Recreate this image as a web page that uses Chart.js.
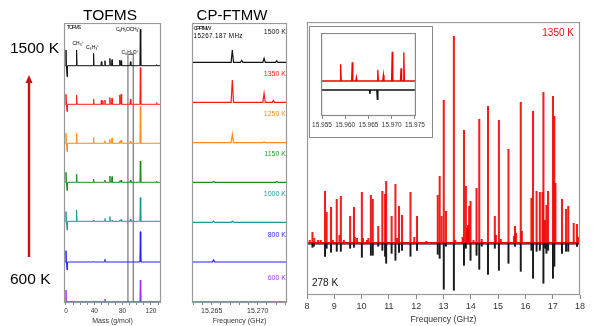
<!DOCTYPE html>
<html>
<head>
<meta charset="utf-8">
<script src="https://cdn.jsdelivr.net/npm/chart.js@4.4.1/dist/chart.umd.min.js"></script>
<style>
  html, body { margin: 0; padding: 0; background: #fff; }
  #page { position: relative; width: 600px; height: 326px; overflow: hidden; }
  canvas { position: absolute; }
  #inset-box { position: absolute; left: 309px; top: 26px; width: 122px; height: 110px; border: 1px solid #888; background: #fff; }
  svg { position: absolute; left: 0; top: 0; pointer-events: none; }
  text { font-family: "Liberation Sans", Arial, sans-serif; }
</style>
</head>
<body>
<div id="page">
  <canvas id="tof" width="117" height="303" style="left:54px;top:23px"></canvas>
  <canvas id="ftmw" width="115" height="303" style="left:182px;top:23px"></canvas>
  <canvas id="main" width="293" height="304" style="left:297px;top:22px"></canvas>
  <div id="inset-box"></div>
  <canvas id="inset" width="117" height="101" style="left:310px;top:33px"></canvas>
  <svg width="600" height="326">
    <text x="110" y="19.5" font-size="15.5" text-anchor="middle">TOFMS</text>
    <text x="232" y="20" font-size="15" text-anchor="middle">CP-FTMW</text>
    <text x="10" y="53" font-size="15.5">1500 K</text>
    <text x="10" y="284" font-size="15.5">600 K</text>
    <line x1="29" y1="257" x2="29" y2="82" stroke="#c81010" stroke-width="2.4"/>
    <polygon points="29,75 25.5,83 32.5,83" fill="#c81010"/>

    <text x="67" y="29" font-size="5" textLength="14">TOF-MS</text>
    <text x="72.5" y="44.5" font-size="5">CH₃⁺</text>
    <text x="86" y="48.5" font-size="5">C₃H₃⁺</text>
    <text x="116" y="31" font-size="5" textLength="24">C₆H₅OCH₃⁺</text>
    <text x="121.5" y="53.5" font-size="5">C₆H₅O⁺</text>

    <text x="193.5" y="30" font-size="6" textLength="18">CP-FTMW</text>
    <text x="193.5" y="38" font-size="6.3" textLength="49">15267.187 MHz</text>
    <g font-size="7" text-anchor="end">
      <text x="286" y="34" fill="#222">1500 K</text>
      <text x="286" y="75.5" fill="#ff2020">1350 K</text>
      <text x="286" y="115.5" fill="#ff8c1a">1250 K</text>
      <text x="286" y="156" fill="#2a9a2a">1150 K</text>
      <text x="286" y="196" fill="#1aa0a0">1000 K</text>
      <text x="286" y="236.5" fill="#2a2aff">800 K</text>
      <text x="286" y="279.5" fill="#a040ff">600 K</text>
    </g>
    <text x="574" y="36" font-size="10" text-anchor="end" fill="#e01010">1350 K</text>
    <text x="312" y="286" font-size="10" fill="#111">278 K</text>
  </svg>
</div>
<script>
// ---- TOF mass spectra (peak heights above each trace baseline)
const TOF_MASSES = [0, 1.5, 15, 39, 50, 52, 55, 62, 65, 76, 78, 91, 105, 128];
const TOF_1500 = [15.7, -11, 15.7, 12.3, 4, 0, 5, 7.3, 6, 5.7, 5, 4, 36.3, 1];
const TOF_1350 = [10, -7.4, 9.3, 5.3, 4.3, 3.5, 4.3, 6.7, 6, 9.3, 10.3, 5.3, 36.7, 1.7];
const TOF_1250 = [10, -8.3, 10, 5.7, 0, 0, 2.7, 4, 5, 2, 3.3, 2.3, 37.3, 0.5];
const TOF_1150 = [10, -8.3, 8.3, 3.3, 0, 0, 2.3, 6.3, 5.7, 1.5, 2.3, 2.3, 21.3, 1];
const TOF_1000 = [9.7, -8.7, 11.3, 1.3, 0, 0, 2.7, 4.7, 1, 1, 2, 2.3, 23.7, 0.5];
const TOF_800 = [11.3, -8, 0, 0.5, 0, 0, 2.7, 0, 0, 0, 0, 0, 30.3, 0];
const TOF_600 = [11.7, 0, 0, 0, 0, 0, 2.7, 0, 0, 0, 0, 0, 21.7, 0];
const TOF_TICKS = [0, 10, 20, 30, 40, 50, 60, 70, 80, 90, 100, 110, 120, 130];
const TOF_LABELS = [0, 40, 80, 120];

// ---- CP-FTMW traces around 15267.187 MHz
const CP_FREQS = [15.2652, 15.26724, 15.26826, 15.27069, 15.2717, 15.27206];
const CP_1500 = [0, 12.3, 2, 4, 0, 1.5];
const CP_1350 = [0, 22.3, 0, 9, 2, 0];
const CP_1250 = [0, 8.3, 0, 1, 0, 0];
const CP_1150 = [0.8, 0, 0, 0, 0, 0.8];
const CP_1000 = [1.2, 1.2, 0, 0, 0, 0];
const CP_800 = [2, 0, 0, 0, 0, 0];
const CP_600 = [0, 0, 0, 0, 0, 0];
const CP_TICKS = [15.263, 15.264, 15.265, 15.266, 15.267, 15.268, 15.269, 15.270, 15.271, 15.272, 15.273];
const CP_LABELS = [15.265, 15.270];

// ---- broadband spectrum: 1350 K (up) and 278 K (down)
const HOT_FREQS = [8.10, 8.20, 8.27, 8.40, 8.50, 8.66, 8.72, 8.88, 8.95, 9.09, 9.19, 9.24, 9.35, 9.58, 9.72, 9.75, 9.83,
  10.01, 10.05, 10.20, 10.25, 10.34, 10.41, 10.61, 10.76, 10.86, 10.90, 11.10, 11.24, 11.30, 11.37, 11.48, 11.79, 11.93,
  12.03, 12.37, 12.79, 12.86, 12.93, 13.01, 13.09, 13.38, 13.43, 13.70, 13.75, 13.82, 13.86, 13.90, 13.94, 13.99, 14.10,
  14.21, 14.31, 14.40, 14.63, 14.88, 14.92, 15.03, 15.10, 15.38, 15.58, 15.62, 15.66, 15.83, 15.87, 16.22, 16.28, 16.41,
  16.53, 16.63, 16.66, 16.72, 16.77, 16.83, 17.01, 17.06, 17.10, 17.34, 17.49, 17.57, 17.77, 17.89, 17.94];
const HOT_INT = [3, 11, 5, 3, 3, 52, 31, 36, 3, 44, 8, 47, 3, 27, 36, 6, 5,
  51, 5, 3, 5, 48, 44, 17, 52, 49, 62, 27, 59, 5, 37, 28, 51, 6,
  27, 2, 48, 67, 27, 143, 32, 207, 3, 6, 113, 57, 15, 18, 37, 42, 3,
  55, 124, 4, 137, 27, 8, 123, 4, 94, 7, 17, 10, 141, 12, 45, 132, 52,
  51, 51, 151, 23, 38, 52, 147, 127, 60, 44, 34, 37, 20, 19, 6];
const COLD_FREQS = [8.20, 8.25, 8.66, 8.72, 8.88, 9.09, 9.24, 9.58, 9.72, 10.01, 10.34, 10.41, 10.61, 10.76, 10.86, 10.90,
  11.10, 11.24, 11.37, 11.48, 11.79, 12.03, 12.79, 12.86, 13.01, 13.09, 13.38, 13.75, 13.82, 13.99, 14.21, 14.31, 14.40,
  14.63, 14.88, 15.03, 15.38, 15.62, 15.83, 16.22, 16.28, 16.41, 16.53, 16.66, 16.72, 16.77, 16.83, 17.01, 17.06, 17.34,
  17.49, 17.57, 17.89];
const COLD_INT = [4, 3, 13, 5, 9, 8, 8, 5, 4, 14, 12, 12, 3, 7, 13, 20,
  10, 17, 9, 7, 13, 7, 11, 15, 46, 3, 47, 22, 5, 17, 12, 26, 3,
  31, 5, 27, 20, 3, 28, 7, 35, 8, 7, 40, 5, 10, 7, 35, 23, 10,
  8, 8, 3];
const MAIN_TICKS = [8, 9, 10, 11, 12, 13, 14, 15, 16, 17, 18];

// ---- inset zoom 15.955-15.975 GHz
const INSET_HOT_FREQS = [15.9590, 15.9615, 15.9624, 15.9670, 15.9682, 15.9701, 15.9720, 15.9726];
const INSET_HOT_INT = [16.7, 18.7, 3.7, 11, 6, 29.3, 12.7, 28.7];
const INSET_COLD_FREQS = [15.9653, 15.9669];
const INSET_COLD_INT = [-4, -9.3];
const INSET_TICKS = [15.955, 15.960, 15.965, 15.970, 15.975];

const FONT = '"Liberation Sans", Arial, sans-serif';

// frame around the plotting area
const framePlugin = {
  id: 'frame',
  afterDraw(chart, args, opts) {
    const a = chart.chartArea, ctx = chart.ctx;
    ctx.save();
    ctx.strokeStyle = opts.color || '#999';
    ctx.lineWidth = opts.width || 1;
    ctx.strokeRect(a.left + 0.5, a.top + 0.5, a.right - a.left - 1, a.bottom - a.top - 1);
    ctx.restore();
  }
};

function xAxis(min, max, tickVals, labelVals, fmt, fontSize, title, titleSize, height, tickLen) {
  return {
    type: 'linear', min: min, max: max, offset: false,
    afterBuildTicks: s => { s.ticks = tickVals.map(v => ({ value: v })); },
    afterFit: s => { s.height = height; },
    ticks: {
      autoSkip: false, maxRotation: 0, padding: 2, color: '#333',
      font: { size: fontSize, family: FONT },
      callback: v => labelVals.some(l => Math.abs(l - v) < 1e-7) ? fmt(v) : ''
    },
    grid: { display: true, offset: false, drawOnChartArea: false, drawTicks: true, tickLength: tickLen, color: '#888' },
    border: { display: false },
    title: title ? { display: true, text: title, color: '#333', font: { size: titleSize, family: FONT }, padding: { top: 0, bottom: 1 } } : { display: false }
  };
}

function yAxis(min, max) {
  return { type: 'linear', display: false, min: min, max: max };
}

// stick/peak trace on a flat baseline
function trace(xs, hs, base, w, xmin, xmax) {
  const pts = [{ x: xmin, y: base }];
  xs.forEach((x, i) => {
    if (hs[i]) pts.push({ x: x - w, y: base }, { x: x, y: base + hs[i] }, { x: x + w, y: base });
  });
  pts.push({ x: xmax, y: base });
  return pts;
}

function lineSet(data, color, width) {
  return { type: 'scatter', data: data, showLine: true, borderColor: color, borderWidth: width, pointRadius: 0, tension: 0, fill: false };
}

function baseOptions(x, y, frameColor, pad) {
  return {
    responsive: false, animation: false, devicePixelRatio: 1,
    layout: { padding: pad },
    plugins: { legend: { display: false }, tooltip: { enabled: false }, frame: { color: frameColor, width: 1.2 } },
    scales: { x: x, y: y }
  };
}

const COLORS = ['#111111', '#ff1a1a', '#ff8c1a', '#1e8c1e', '#1a9999', '#2020ff', '#9b30ff'];

// TOFMS panel
const tofSets = [TOF_1500, TOF_1350, TOF_1250, TOF_1150, TOF_1000, TOF_800, TOF_600];
const tofBase = [237.3, 198.7, 159.7, 120.7, 81.7, 41, 1.3];
const tofDatasets = tofSets.map((h, i) => lineSet(trace(TOF_MASSES, h, tofBase[i], 0.6, -2.8, 134.2), COLORS[i], 1));
tofDatasets.push(lineSet([{ x: 87.5, y: -2 }, { x: 87.5, y: 248.7 }, { x: 95, y: 248.7 }, { x: 95, y: -2 }], '#777', 1.2));
new Chart(document.getElementById('tof'), {
  type: 'scatter',
  data: { datasets: tofDatasets },
  options: baseOptions(
    xAxis(-2.8, 134.2, TOF_TICKS, TOF_LABELS, v => String(v), 6.5, 'Mass (g/mol)', 7, 23, 2),
    yAxis(0, 280), '#999', { left: 10, right: 10, top: 0, bottom: 0 }),
  plugins: [framePlugin]
});

// CP-FTMW panel
const cpSets = [CP_1500, CP_1350, CP_1250, CP_1150, CP_1000, CP_800, CP_600];
const cpBase = [240.7, 200.7, 160.3, 120.7, 80.7, 41, 1.2];
new Chart(document.getElementById('ftmw'), {
  type: 'scatter',
  data: { datasets: cpSets.map((h, i) => lineSet(trace(CP_FREQS, h, cpBase[i], 0.00013, 15.26286, 15.27318), COLORS[i], 1.2)) },
  options: baseOptions(
    xAxis(15.26286, 15.27318, CP_TICKS, CP_LABELS, v => v.toFixed(3), 7, 'Frequency (GHz)', 7, 23, 2),
    yAxis(0, 280), '#999', { left: 10, right: 10, top: 0, bottom: 0 }),
  plugins: [framePlugin]
});

// broadband spectrum
new Chart(document.getElementById('main'), {
  type: 'bar',
  data: {
    datasets: [
      { data: COLD_FREQS.map((f, i) => ({ x: f, y: -COLD_INT[i] })), backgroundColor: '#1a1a1a', barThickness: 1.3, grouped: false },
      { data: HOT_FREQS.map((f, i) => ({ x: f, y: HOT_INT[i] })), backgroundColor: 'rgba(240,0,0,0.88)', barThickness: 1.4, grouped: false },
      { type: 'line', data: [{ x: 8, y: -0.8 }, { x: 18, y: -0.8 }], borderColor: '#222', borderWidth: 1, pointRadius: 0 },
      { type: 'line', data: [{ x: 8, y: 0.4 }, { x: 18, y: 0.4 }], borderColor: '#f00000', borderWidth: 1.6, pointRadius: 0 }
    ]
  },
  options: baseOptions(
    xAxis(8, 18, MAIN_TICKS, MAIN_TICKS, v => String(v), 9, 'Frequency (GHz)', 8.6, 31, 4),
    yAxis(-51.7, 221.3), '#999', { left: 10, right: 10, top: 0, bottom: 0 }),
  plugins: [framePlugin]
});

// inset
new Chart(document.getElementById('inset'), {
  type: 'scatter',
  data: {
    datasets: [
      lineSet(trace(INSET_COLD_FREQS, INSET_COLD_INT, 26, 0.00012, 15.9548, 15.9752), '#111', 1.3),
      lineSet(trace(INSET_HOT_FREQS, INSET_HOT_INT, 35, 0.00013, 15.9548, 15.9752), '#f00000', 1.3)
    ]
  },
  options: baseOptions(
    xAxis(15.9548, 15.9752, INSET_TICKS, INSET_TICKS, v => v.toFixed(3), 6.5, '', 0, 18, 3),
    yAxis(0, 83), '#888', { left: 10, right: 10, top: 0, bottom: 0 }),
  plugins: [framePlugin]
});
</script>
</body>
</html>
